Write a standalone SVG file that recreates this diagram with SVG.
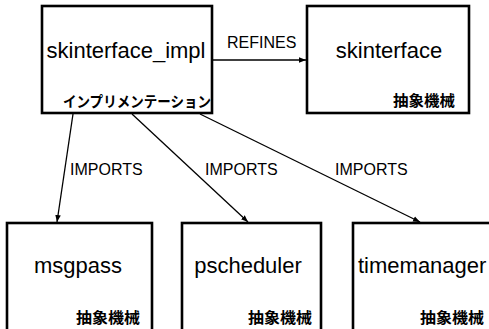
<svg xmlns="http://www.w3.org/2000/svg" width="489" height="329" viewBox="0 0 489 329">
<style>
.box{fill:#fff;stroke:#000;stroke-width:2.6}
.name{font-family:"Liberation Sans",Arial,sans-serif;font-size:22px;fill:#000;text-anchor:middle}
.kind{font-family:"Noto Sans CJK JP",sans-serif;font-weight:700;font-size:15px;fill:#000;text-anchor:end}
.lbl{font-family:"Liberation Sans",Arial,sans-serif;font-size:16px;fill:#000}
.edge{fill:none;stroke:#000;stroke-width:1.3}
</style>
<defs>
<marker id="ah" viewBox="0 0 10 10" refX="10" refY="5" markerWidth="7" markerHeight="7" markerUnits="userSpaceOnUse" orient="auto">
<path d="M0,1 L10,5 L0,9 z" fill="#000"/>
</marker>
</defs>
<rect width="489" height="329" fill="#fff"/>
<g id="connectors">
<line class="edge" x1="213" y1="60" x2="306" y2="60" marker-end="url(#ah)"/>
<text class="lbl" x="227" y="48" font-size="15">REFINES</text>
<line class="edge" x1="73" y1="114" x2="57" y2="222" marker-end="url(#ah)"/>
<text class="lbl" x="70" y="175">IMPORTS</text>
<line class="edge" x1="132" y1="114" x2="248" y2="222" marker-end="url(#ah)"/>
<text class="lbl" x="205" y="175">IMPORTS</text>
<line class="edge" x1="200" y1="114" x2="420" y2="222" marker-end="url(#ah)"/>
<text class="lbl" x="335" y="175">IMPORTS</text>
</g>
<g id="skinterface_impl">
<rect class="box" x="42" y="6" width="170" height="107"/>
<text class="name" x="126" y="58">skinterface_impl</text>
<text class="kind" x="211" y="107" textLength="148" lengthAdjust="spacingAndGlyphs">インプリメンテーション</text>
</g>
<g id="skinterface">
<rect class="box" x="307" y="6" width="162" height="107"/>
<text class="name" x="389" y="58">skinterface</text>
<text class="kind" x="455" y="106" textLength="62" lengthAdjust="spacingAndGlyphs">抽象機械</text>
</g>
<g id="msgpass">
<rect class="box" x="7" y="223" width="145" height="110"/>
<text class="name" x="78" y="273">msgpass</text>
<text class="kind" x="140" y="323" textLength="64" lengthAdjust="spacingAndGlyphs">抽象機械</text>
</g>
<g id="pscheduler">
<rect class="box" x="182" y="223" width="139" height="110"/>
<text class="name" x="248" y="273">pscheduler</text>
<text class="kind" x="312" y="323" textLength="64" lengthAdjust="spacingAndGlyphs">抽象機械</text>
</g>
<g id="timemanager">
<rect class="box" x="353" y="223" width="150" height="110"/>
<text class="name" x="358" y="273" style="text-anchor:start">timemanager</text>
<text class="kind" x="484" y="323" textLength="64" lengthAdjust="spacingAndGlyphs">抽象機械</text>
</g>
</svg>
